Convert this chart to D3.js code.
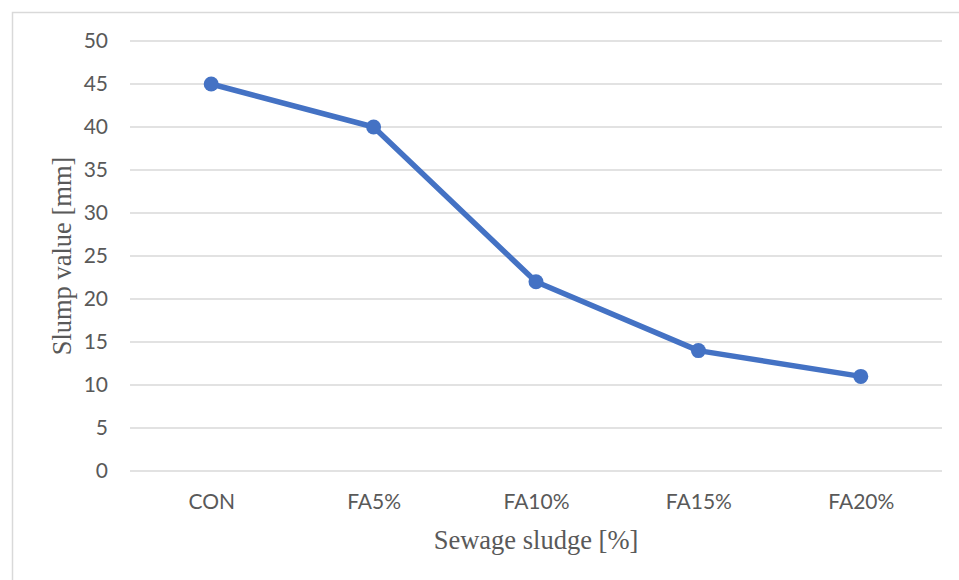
<!DOCTYPE html>
<html>
<head>
<meta charset="utf-8">
<script src="https://cdn.jsdelivr.net/npm/d3@7"></script>
<style>
  html, body { margin: 0; padding: 0; background: #fff; }
  svg { display: block; }
</style>
</head>
<body>
<svg id="chart" width="959" height="580"></svg>
<script>
// Slump test results for mixes with sewage sludge replacing fine aggregate
const categories = ["CON", "FA5%", "FA10%", "FA15%", "FA20%"];
const slumpValues = [45, 40, 22, 14, 11];
const yTicks = [0, 5, 10, 15, 20, 25, 30, 35, 40, 45, 50];

const svg = d3.select("#chart");
const W = 959, H = 580;
const plot = { left: 130, right: 942, top: 41, bottom: 471 };
const tickFont = "Lato, 'Open Sans', sans-serif";
const titleFont = "'Liberation Serif', 'Times New Roman', serif";

// Chart area frame
svg.append("rect")
  .attr("x", 12.5).attr("y", 12.5)
  .attr("width", W).attr("height", H)
  .attr("fill", "#fff")
  .attr("stroke", "#d9d9d9").attr("stroke-width", 1.5);

const x = d3.scalePoint()
  .domain(categories)
  .range([plot.left, plot.right])
  .padding(0.5);

const y = d3.scaleLinear()
  .domain([0, 50])
  .range([plot.bottom, plot.top]);

// Horizontal gridlines
svg.append("g")
  .selectAll("line")
  .data(yTicks)
  .join("line")
  .attr("x1", plot.left).attr("x2", plot.right)
  .attr("y1", d => y(d)).attr("y2", d => y(d))
  .attr("stroke", "#d9d9d9").attr("stroke-width", 1.3);

// Y axis tick labels
const yAxis = d3.axisLeft(y).tickValues(yTicks).tickSize(0).tickPadding(0);
svg.append("g")
  .attr("transform", `translate(${plot.left - 22},0)`)
  .call(yAxis)
  .call(g => g.select(".domain").remove())
  .call(g => g.selectAll("text")
    .attr("font-family", tickFont)
    .attr("font-size", 21)
    .attr("fill", "#595959"));

// X axis tick labels
const xAxis = d3.axisBottom(x).tickSize(0).tickPadding(0);
svg.append("g")
  .attr("transform", `translate(0,${plot.bottom + 23})`)
  .call(xAxis)
  .call(g => g.select(".domain").remove())
  .call(g => g.selectAll("text")
    .attr("font-family", tickFont)
    .attr("font-size", 21)
    .attr("fill", "#595959"));

// Axis titles
svg.append("text")
  .attr("x", (plot.left + plot.right) / 2)
  .attr("y", 549)
  .attr("text-anchor", "middle")
  .attr("font-family", titleFont)
  .attr("font-size", 26.5)
  .attr("fill", "#595959")
  .text("Sewage sludge [%]");

svg.append("text")
  .attr("transform", `translate(71,${(plot.top + plot.bottom) / 2}) rotate(-90)`)
  .attr("text-anchor", "middle")
  .attr("font-family", titleFont)
  .attr("font-size", 26.5)
  .attr("fill", "#595959")
  .text("Slump value [mm]");

// Data line and markers
const data = categories.map((c, i) => ({ c, v: slumpValues[i] }));
svg.append("path")
  .datum(data)
  .attr("fill", "none")
  .attr("stroke", "#4472C4")
  .attr("stroke-width", 5.5)
  .attr("stroke-linejoin", "round")
  .attr("d", d3.line().x(d => x(d.c)).y(d => y(d.v)));

svg.append("g")
  .selectAll("circle")
  .data(data)
  .join("circle")
  .attr("cx", d => x(d.c))
  .attr("cy", d => y(d.v))
  .attr("r", 7.5)
  .attr("fill", "#4472C4");
</script>
</body>
</html>
